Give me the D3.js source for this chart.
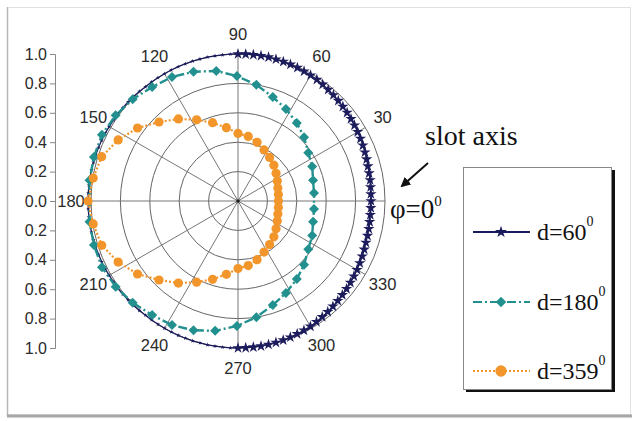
<!DOCTYPE html>
<html>
<head>
<meta charset="utf-8">
<script src="https://cdn.jsdelivr.net/npm/d3@7"></script>
<style>
  html, body { margin: 0; padding: 0; background: #fff; }
  svg { display: block; }
</style>
</head>
<body>
<div id="chart"></div>
<script>
// Polar plot, radius normalised to 1.0, angle in degrees (0 = slot axis)
const radialTicks = [0.2, 0.4, 0.6, 0.8, 1.0];
const angleTicks = [30, 60, 90, 120, 150, 180, 210, 240, 270, 300, 330];
const axisTicks = [-1, -0.8, -0.6, -0.4, -0.2, 0, 0.2, 0.4, 0.6, 0.8, 1];

// d=60: star every 3 degrees
const d60Angles = d3.range(0, 360, 3);
const d60Values = [
  0.905, 0.905, 0.907, 0.91, 0.912, 0.915, 0.92, 0.925, 0.93, 0.935,
  0.94, 0.945, 0.95, 0.955, 0.96, 0.965, 0.97, 0.975, 0.98, 0.985,
  0.988, 0.99, 0.993, 0.995, 0.997, 0.998, 1.0, 1.0, 1.0, 1.0,
  1.0, 1.0, 1.0, 1.0, 1.0, 1.0, 1.0, 1.0, 1.0, 1.0,
  1.0, 1.0, 1.0, 1.0, 1.003, 1.005, 1.006, 1.008, 1.01, 1.01,
  1.012, 1.014, 1.015, 1.016, 1.017, 1.018, 1.019, 1.02, 1.02, 1.02,
  1.02, 1.02, 1.02, 1.02, 1.019, 1.018, 1.017, 1.016, 1.015, 1.014,
  1.012, 1.01, 1.01, 1.008, 1.006, 1.005, 1.003, 1.0, 1.0, 1.0,
  1.0, 1.0, 1.0, 1.0, 1.0, 1.0, 1.0, 1.0, 1.0, 1.0,
  1.0, 1.0, 1.0, 1.0, 0.998, 0.997, 0.995, 0.993, 0.99, 0.988,
  0.985, 0.98, 0.975, 0.97, 0.965, 0.96, 0.955, 0.95, 0.945, 0.94,
  0.935, 0.93, 0.925, 0.92, 0.915, 0.912, 0.91, 0.907, 0.905, 0.905
];

// d=180: diamonds
const d180Angles = [6, 15.5, 25, 34.5, 44, 53, 62.5, 71.5, 81, 90.5, 99.5, 109, 118, 127, 136, 145, 154, 163, 172,
  188, 197, 206, 215, 224, 233, 242, 251, 260, 269.5, 279, 288.5, 297.5, 307, 316, 325.5, 335, 344.5, 354];
const d180Values = [0.52, 0.53, 0.557, 0.58, 0.625, 0.665, 0.706, 0.746, 0.8, 0.85, 0.897, 0.93, 0.956, 0.971, 0.996, 1.016, 1.03, 1.025, 1.02,
  1.02, 1.025, 1.03, 1.016, 0.996, 0.971, 0.956, 0.93, 0.897, 0.85, 0.8, 0.746, 0.706, 0.665, 0.625, 0.58, 0.557, 0.53, 0.52];

// d=359: circles every 9 degrees
const d359Angles = d3.range(0, 360, 9);
const d359Values = [
  0.275, 0.278, 0.285, 0.3, 0.32, 0.345, 0.366, 0.39, 0.42, 0.445,
  0.46, 0.505, 0.56, 0.62, 0.69, 0.76, 0.845, 0.915, 0.975, 0.997,
  1.02, 0.997, 0.975, 0.915, 0.845, 0.76, 0.69, 0.62, 0.56, 0.505,
  0.46, 0.445, 0.42, 0.39, 0.366, 0.345, 0.32, 0.3, 0.285, 0.278
];

const legendLabels = ['d=60', 'd=180', 'd=359'];

const width = 638, height = 421;
const cx = 238, cy = 201, R = 147;
const navy = '#1c1c5c', teal = '#22908e', orange = '#f2962c';

const svg = d3.select('#chart').append('svg')
  .attr('width', width)
  .attr('height', height)
  .attr('viewBox', [0, 0, width, height]);

// Photo-like frame
svg.append('rect')
  .attr('x', 7.5).attr('y', 7.5)
  .attr('width', 623).attr('height', 407)
  .attr('fill', '#fff')
  .attr('stroke', '#e0e0e0');
svg.append('line')
  .attr('x1', 7.5).attr('x2', 7.5).attr('y1', 7).attr('y2', 416)
  .attr('stroke', '#b8b8b8').attr('stroke-width', 1.5);
svg.append('line')
  .attr('x1', 7).attr('x2', 632).attr('y1', 416).attr('y2', 416)
  .attr('stroke', '#a8a8a8').attr('stroke-width', 3);

const r = d3.scaleLinear().domain([0, 1]).range([0, R]);
const rad = deg => deg * Math.PI / 180;

const plot = svg.append('g').attr('transform', `translate(${cx},${cy})`);

// Grid circles
plot.append('g')
  .selectAll('circle')
  .data(radialTicks)
  .enter()
  .append('circle')
  .attr('r', d => r(d))
  .attr('fill', 'none')
  .attr('stroke', '#666')
  .attr('stroke-width', 1);

// Radial spokes every 30 degrees
plot.append('g')
  .selectAll('line')
  .data([0].concat(angleTicks))
  .enter()
  .append('line')
  .attr('x1', 0).attr('y1', 0)
  .attr('x2', d => r(1) * Math.cos(rad(d)))
  .attr('y2', d => -r(1) * Math.sin(rad(d)))
  .attr('stroke', '#777')
  .attr('stroke-width', 1);

plot.append('circle').attr('r', 1.8).attr('fill', '#222');

// Angle labels
plot.append('g')
  .selectAll('text')
  .data(angleTicks)
  .enter()
  .append('text')
  .attr('x', d => 167 * Math.cos(rad(d)))
  .attr('y', d => -167 * Math.sin(rad(d)))
  .attr('dy', '0.35em')
  .attr('text-anchor', 'middle')
  .attr('font-family', 'Liberation Sans, Arial, sans-serif')
  .attr('font-size', 16.5)
  .attr('fill', '#2a2a2a')
  .text(d => d);

// Left radius axis (1.0 .. 0.0 .. 1.0)
const yAxisScale = d3.scaleLinear().domain([-1, 1]).range([cy + R, cy - R]);
const yAxis = svg.append('g')
  .attr('transform', 'translate(55,0)')
  .call(d3.axisLeft(yAxisScale)
    .tickValues(axisTicks)
    .tickFormat(d => Math.abs(d).toFixed(1))
    .tickSize(5)
    .tickPadding(3));
yAxis.select('.domain').attr('stroke', '#888');
yAxis.selectAll('.tick line').attr('stroke', '#888');
yAxis.selectAll('text')
  .attr('font-family', 'Liberation Sans, Arial, sans-serif')
  .attr('font-size', 16)
  .attr('fill', '#2a2a2a');

function toPoints(angles, values) {
  return angles.map((a, i) => ({ a, v: values[i] }));
}

const radialLine = d3.lineRadial()
  .angle(d => Math.PI / 2 - rad(d.a))
  .radius(d => r(d.v))
  .curve(d3.curveLinearClosed);

const px = d => r(d.v) * Math.cos(rad(d.a));
const py = d => -r(d.v) * Math.sin(rad(d.a));

// d=60
const d60 = toPoints(d60Angles, d60Values);
plot.append('path')
  .datum(d60)
  .attr('d', radialLine)
  .attr('fill', 'none')
  .attr('stroke', navy)
  .attr('stroke-width', 1.3);
plot.append('g')
  .selectAll('path')
  .data(d60)
  .enter()
  .append('path')
  .attr('transform', d => `translate(${px(d)},${py(d)})`)
  .attr('d', d => d3.symbol(d3.symbolStar, (d.a <= 90 || d.a >= 270) ? 40 : 6)())
  .attr('fill', navy);

// d=180
const d180 = toPoints(d180Angles, d180Values);
plot.append('path')
  .datum(d180)
  .attr('d', radialLine)
  .attr('fill', 'none')
  .attr('stroke', teal)
  .attr('stroke-width', 2.4)
  .attr('stroke-dasharray', '9,3,2,3');
plot.append('g')
  .selectAll('path')
  .data(d180)
  .enter()
  .append('path')
  .attr('transform', d => `translate(${px(d)},${py(d)}) rotate(45)`)
  .attr('d', d3.symbol(d3.symbolSquare, 50)())
  .attr('fill', teal);

// d=359
const d359 = toPoints(d359Angles, d359Values);
plot.append('path')
  .datum(d359)
  .attr('d', radialLine)
  .attr('fill', 'none')
  .attr('stroke', orange)
  .attr('stroke-width', 2.2)
  .attr('stroke-dasharray', '2,2');
plot.append('g')
  .selectAll('circle')
  .data(d359)
  .enter()
  .append('circle')
  .attr('cx', px)
  .attr('cy', py)
  .attr('r', 4.6)
  .attr('fill', orange);

// Annotations
const serif = 'Liberation Serif, Times New Roman, serif';
svg.append('text')
  .attr('x', 425).attr('y', 145)
  .attr('font-family', serif)
  .attr('font-size', 28)
  .attr('fill', '#111')
  .text('slot axis');

svg.append('defs').append('marker')
  .attr('id', 'arrowhead')
  .attr('viewBox', '0 -5 10 10')
  .attr('refX', 8)
  .attr('refY', 0)
  .attr('orient', 'auto')
  .attr('markerWidth', 5)
  .attr('markerHeight', 5)
  .append('path')
  .attr('d', 'M0,-5L10,0L0,5')
  .attr('fill', '#111');

svg.append('line')
  .attr('x1', 428).attr('y1', 163)
  .attr('x2', 402).attr('y2', 186)
  .attr('stroke', '#111')
  .attr('stroke-width', 2)
  .attr('marker-end', 'url(#arrowhead)');

const phi = svg.append('text')
  .attr('x', 390).attr('y', 218)
  .attr('font-family', serif)
  .attr('font-size', 27)
  .attr('fill', '#111');
phi.append('tspan').text('φ=0');
phi.append('tspan').attr('font-size', 15).attr('dy', -12).text('0');

// Legend
const legend = svg.append('g');
legend.append('rect')
  .attr('x', 466).attr('y', 170)
  .attr('width', 149).attr('height', 222)
  .attr('fill', '#111');
legend.append('rect')
  .attr('x', 463.5).attr('y', 167.5)
  .attr('width', 148).attr('height', 222)
  .attr('fill', '#fff')
  .attr('stroke', '#888');

const legendY = [232, 302, 371];
const legendColors = [navy, teal, orange];
const legendDash = [null, '9,3,2,3', '2,2'];

legendLabels.forEach((label, i) => {
  const y = legendY[i];
  legend.append('line')
    .attr('x1', 473).attr('x2', 530)
    .attr('y1', y).attr('y2', y)
    .attr('stroke', legendColors[i])
    .attr('stroke-width', 2.2)
    .attr('stroke-dasharray', legendDash[i]);
  const mark = legend.append('path').attr('fill', legendColors[i]);
  if (i === 0) {
    mark.attr('d', d3.symbol(d3.symbolStar, 44)()).attr('transform', `translate(501,${y})`);
  } else if (i === 1) {
    mark.attr('d', d3.symbol(d3.symbolSquare, 56)()).attr('transform', `translate(501,${y}) rotate(45)`);
  } else {
    mark.attr('d', d3.symbol(d3.symbolCircle, 100)()).attr('transform', `translate(501,${y})`);
  }
  const t = legend.append('text')
    .attr('x', 537).attr('y', y + 8)
    .attr('font-family', serif)
    .attr('font-size', 24)
    .attr('fill', '#111');
  t.append('tspan').text(label);
  t.append('tspan').attr('font-size', 14).attr('dy', -14).text('0');
});
</script>
</body>
</html>
